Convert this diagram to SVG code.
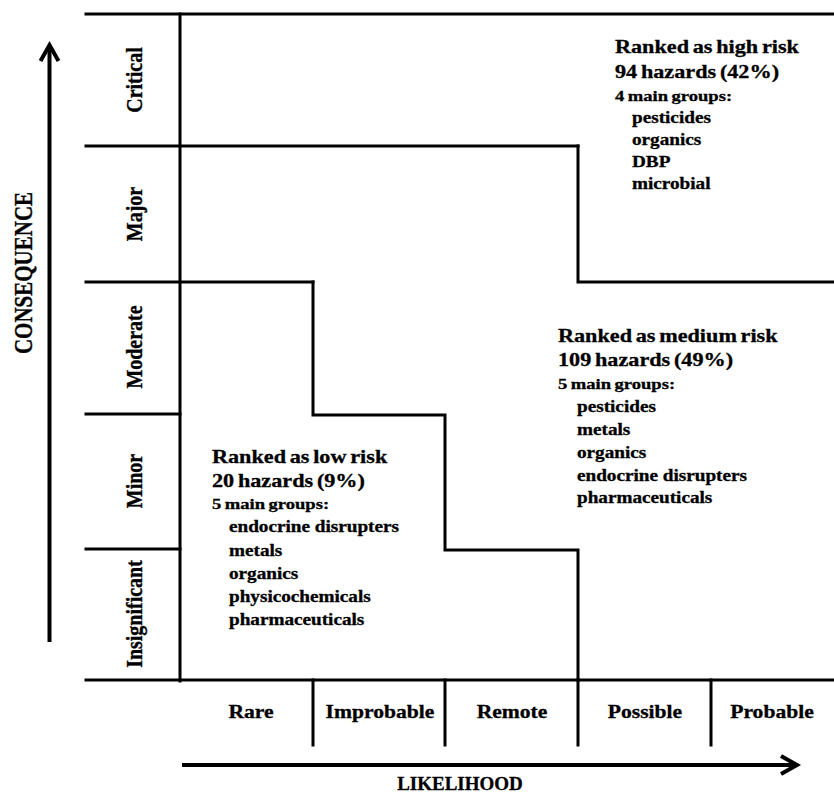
<svg xmlns="http://www.w3.org/2000/svg" width="834" height="793" viewBox="0 0 834 793">
<style>
text{font-family:"Liberation Serif","Times New Roman",serif;font-weight:bold;fill:#000;stroke:#000;stroke-width:0.3}
.h{font-size:18.5px;word-spacing:-1.5px}
.g{font-size:15.5px;word-spacing:-1px}
.i{font-size:16px}
.col{font-size:18px;text-anchor:middle}
.row{font-size:20px;text-anchor:middle}
.ax{font-size:19px;text-anchor:middle}
.axv{font-size:21px;text-anchor:middle}
.ln{stroke:#000;stroke-width:3;fill:none;stroke-linecap:square}
.arr{stroke:#000;stroke-width:4;fill:none}
</style>
<rect width="834" height="793" fill="#fff"/>
<g id="grid" class="ln">
<path d="M86 14H834"/>
<path d="M86 146H578"/>
<path d="M86 282H313"/>
<path d="M86 414H180"/>
<path d="M86 549H180"/>
<path d="M86 680H834"/>
<path d="M180 14V681"/>
<path d="M313 680V745M445 680V745M578 680V745M711 680V745"/>
</g>
<g id="connectors">
<path class="ln" d="M578 146V282H834"/>
<path class="ln" d="M313 282V415H445V550H578V680"/>
<path class="arr" d="M49.5 642V46"/>
<path class="arr" d="M40.5 61L49.5 45L58.5 61"/>
<path class="arr" d="M182 765H796"/>
<path class="arr" d="M781 756L797 765L781 774"/>
</g>
<g id="row-labels">
<text class="row" transform="translate(142,80) scale(1.2,1) rotate(-90)">Critical</text>
<text class="row" transform="translate(142,214) scale(1.2,1) rotate(-90)">Major</text>
<text class="row" transform="translate(142,347) scale(1.2,1) rotate(-90)">Moderate</text>
<text class="row" transform="translate(142,481) scale(1.2,1) rotate(-90)">Minor</text>
<text class="row" transform="translate(142,614) scale(1.2,1) rotate(-90)">Insignificant</text>
</g>
<g id="col-labels">
<text class="col" transform="translate(251,718) scale(1.2,1)">Rare</text>
<text class="col" transform="translate(380,718) scale(1.2,1)">Improbable</text>
<text class="col" transform="translate(512,718) scale(1.2,1)">Remote</text>
<text class="col" transform="translate(645,718) scale(1.2,1)">Possible</text>
<text class="col" transform="translate(772,718) scale(1.2,1)">Probable</text>
</g>
<g id="axis-titles">
<text class="axv" transform="translate(32,273) scale(1.2,1) rotate(-90)">CONSEQUENCE</text>
<text class="ax" x="460" y="790">LIKELIHOOD</text>
</g>
<g id="high-risk">
<text class="h" transform="translate(615,53) scale(1.2,1)">Ranked as high risk</text>
<text class="h" transform="translate(615,78) scale(1.2,1)">94 hazards (42%)</text>
<text class="g" transform="translate(615,101) scale(1.2,1)">4 main groups:</text>
<text class="i" transform="translate(632,123) scale(1.2,1)">pesticides</text>
<text class="i" transform="translate(632,145) scale(1.2,1)">organics</text>
<text class="i" transform="translate(632,167) scale(1.2,1)">DBP</text>
<text class="i" transform="translate(632,189) scale(1.2,1)">microbial</text>
</g>
<g id="medium-risk">
<text class="h" transform="translate(558,342) scale(1.2,1)">Ranked as medium risk</text>
<text class="h" transform="translate(558,366) scale(1.2,1)">109 hazards (49%)</text>
<text class="g" transform="translate(558,389) scale(1.2,1)">5 main groups:</text>
<text class="i" transform="translate(577,412) scale(1.2,1)">pesticides</text>
<text class="i" transform="translate(577,435) scale(1.2,1)">metals</text>
<text class="i" transform="translate(577,458) scale(1.2,1)">organics</text>
<text class="i" transform="translate(577,481) scale(1.2,1)">endocrine disrupters</text>
<text class="i" transform="translate(577,503) scale(1.2,1)">pharmaceuticals</text>
</g>
<g id="low-risk">
<text class="h" transform="translate(212,463) scale(1.2,1)">Ranked as low risk</text>
<text class="h" transform="translate(212,487) scale(1.2,1)">20 hazards (9%)</text>
<text class="g" transform="translate(212,509) scale(1.2,1)">5 main groups:</text>
<text class="i" transform="translate(229,532) scale(1.2,1)">endocrine disrupters</text>
<text class="i" transform="translate(229,556) scale(1.2,1)">metals</text>
<text class="i" transform="translate(229,579) scale(1.2,1)">organics</text>
<text class="i" transform="translate(229,602) scale(1.2,1)">physicochemicals</text>
<text class="i" transform="translate(229,625) scale(1.2,1)">pharmaceuticals</text>
</g>
</svg>
